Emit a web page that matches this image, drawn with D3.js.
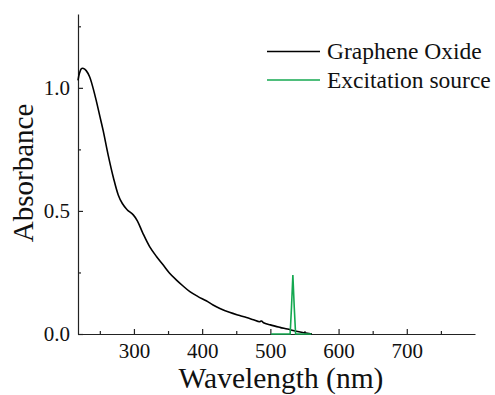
<!DOCTYPE html>
<html>
<head>
<meta charset="utf-8">
<script src="https://cdn.jsdelivr.net/npm/d3@7"></script>
<style>
  body { margin: 0; background: #fff; }
  #chart svg, #chart svg text { font-family: "Liberation Serif" !important; }
</style>
</head>
<body>
<div id="chart"></div>
<script>
// graphene oxide absorbance spectrum
const goWavelength = [218, 220, 223, 226, 230, 235, 240, 245, 250, 255, 262, 270, 277, 283, 290, 299,
  305, 313, 323, 333, 343, 352, 362, 372, 382, 394, 406, 416, 426, 440, 455, 465, 475, 484, 487, 490,
  500, 514, 525, 538, 550, 561];
const goAbsorbance = [1.03, 1.058, 1.078, 1.079, 1.07, 1.045, 1.0, 0.945, 0.885, 0.825, 0.73, 0.634, 0.565,
  0.53, 0.505, 0.484, 0.46, 0.41, 0.355, 0.315, 0.28, 0.248, 0.22, 0.195, 0.172, 0.152, 0.135, 0.118,
  0.104, 0.088, 0.075, 0.067, 0.058, 0.05, 0.053, 0.046, 0.037, 0.027, 0.02, 0.011, 0.005, 0.0];

// excitation source (laser line)
const srcWavelength = [501, 529, 531, 533, 535, 537, 560];
const srcIntensity = [0, 0, 0.11, 0.24, 0.11, 0, 0];

const xMajorTicks = [300, 400, 500, 600, 700];
const xMinorTicks = [250, 350, 450, 550, 650, 750];
const yMajorTicks = [0, 0.5, 1.0];
const yMinorTicks = [0.25, 0.75, 1.25];

const seriesNames = ['Graphene Oxide', 'Excitation source'];
const seriesColors = ['#000000', '#14a850'];

const W = 495, H = 395;
const margin = {left: 78, right: 20, top: 14, bottom: 61};

const x = d3.scaleLinear().domain([218, 800]).range([margin.left, W - margin.right]);
const y = d3.scaleLinear().domain([0, 1.3]).range([H - margin.bottom, margin.top]);

const svg = d3.select('#chart').append('svg')
  .attr('width', W)
  .attr('height', H)
  .attr('font-family', 'Liberation Serif');

// axes, ticks point inward
const axes = svg.append('g');
axes.append('g')
  .attr('transform', `translate(0,${y(0)})`)
  .call(d3.axisBottom(x).tickValues(xMajorTicks).tickSizeInner(-5).tickSizeOuter(0).tickPadding(9)
    .tickFormat(d3.format('d')));
axes.append('g')
  .attr('transform', `translate(0,${y(0)})`)
  .call(d3.axisBottom(x).tickValues(xMinorTicks).tickSizeInner(-3).tickSizeOuter(0).tickFormat(''))
  .select('.domain').remove();

axes.append('g')
  .attr('transform', `translate(${x(218)},0)`)
  .call(d3.axisLeft(y).tickValues(yMajorTicks).tickSizeInner(-5).tickSizeOuter(0).tickPadding(8)
    .tickFormat(d3.format('.1f')));
axes.append('g')
  .attr('transform', `translate(${x(218)},0)`)
  .call(d3.axisLeft(y).tickValues(yMinorTicks).tickSizeInner(-3).tickSizeOuter(0).tickFormat(''))
  .select('.domain').remove();

axes.selectAll('.domain, .tick line')
  .attr('stroke', '#222')
  .attr('stroke-width', 1.2);
axes.selectAll('.tick text')
  .attr('font-size', 21)
  .attr('fill', '#111');

// axis titles
svg.append('text')
  .attr('x', 281)
  .attr('y', 388)
  .attr('text-anchor', 'middle')
  .attr('fill', '#111')
  .attr('font-size', 29.5)
  .text('Wavelength (nm)');

svg.append('text')
  .attr('transform', `translate(33,${173}) rotate(-90)`)
  .attr('text-anchor', 'middle')
  .attr('fill', '#111')
  .attr('font-size', 29)
  .text('Absorbance');

// lines
const goData = goWavelength.map((w, i) => [w, goAbsorbance[i]]);
const srcData = srcWavelength.map((w, i) => [w, srcIntensity[i]]);

svg.append('path')
  .datum(goData)
  .attr('d', d3.line().x(d => x(d[0])).y(d => y(d[1])).curve(d3.curveCatmullRom.alpha(0.5)))
  .attr('fill', 'none')
  .attr('stroke', seriesColors[0])
  .attr('stroke-width', 1.6);

svg.append('path')
  .datum(srcData)
  .attr('d', d3.line().x(d => x(d[0])).y(d => y(d[1])))
  .attr('fill', 'none')
  .attr('stroke', seriesColors[1])
  .attr('stroke-width', 1.6);

// legend
const legend = svg.append('g');
seriesNames.forEach((name, i) => {
  const ly = 51.5 + i * 28.5;
  legend.append('line')
    .attr('x1', 267).attr('x2', 320)
    .attr('y1', ly).attr('y2', ly)
    .attr('stroke', seriesColors[i])
    .attr('stroke-width', 1.6);
  legend.append('text')
    .attr('x', 327)
    .attr('y', ly + 7.5)
    .attr('fill', '#111')
    .attr('font-size', 23.5)
    .text(name);
});
</script>
</body>
</html>
